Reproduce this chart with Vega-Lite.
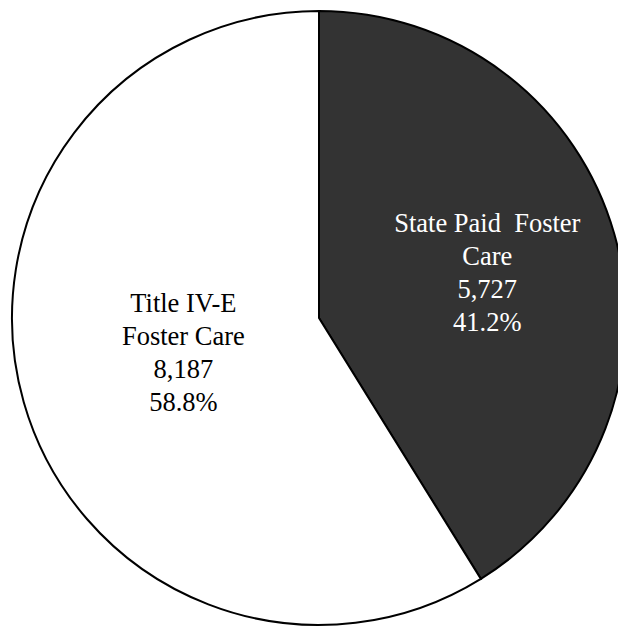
{
  "$schema": "https://vega.github.io/schema/vega-lite/v6.json",
  "width": 638,
  "height": 636,
  "autosize": "none",
  "padding": 0,
  "background": "white",
  "config": {"view": {"stroke": null}},
  "data": {"values": [
    {"category": "State Paid\u00a0 Foster\nCare", "count": 5727, "pct": "41.2%", "ord": 1},
    {"category": "Title IV-E\nFoster Care", "count": 8187, "pct": "58.8%", "ord": 2}
  ]},
  "transform": [
    {"calculate": "datum.category + '\\n' + format(datum.count, ',') + '\\n' + datum.pct", "as": "label"}
  ],
  "encoding": {
    "theta": {"field": "count", "type": "quantitative", "stack": true},
    "order": {"field": "ord", "type": "ordinal"}
  },
  "layer": [
    {
      "mark": {"type": "arc", "outerRadius": 307, "stroke": "black", "strokeWidth": 2},
      "encoding": {
        "color": {"field": "ord", "type": "nominal", "scale": {"domain": [1, 2], "range": ["#333333", "#ffffff"]}, "legend": null}
      }
    },
    {
      "mark": {"type": "text", "radius": 175, "dy": -46, "font": "Liberation Serif", "fontSize": 26.5, "lineBreak": "\n", "lineHeight": 33, "align": "center", "baseline": "middle", "color": "white"},
      "encoding": {"text": {"condition": {"test": "datum.ord == 1", "field": "label"}, "value": ""}}
    },
    {
      "mark": {"type": "text", "radius": 141, "dy": -53, "font": "Liberation Serif", "fontSize": 26.5, "lineBreak": "\n", "lineHeight": 33, "align": "center", "baseline": "middle", "color": "black"},
      "encoding": {"text": {"condition": {"test": "datum.ord == 2", "field": "label"}, "value": ""}}
    }
  ]
}
